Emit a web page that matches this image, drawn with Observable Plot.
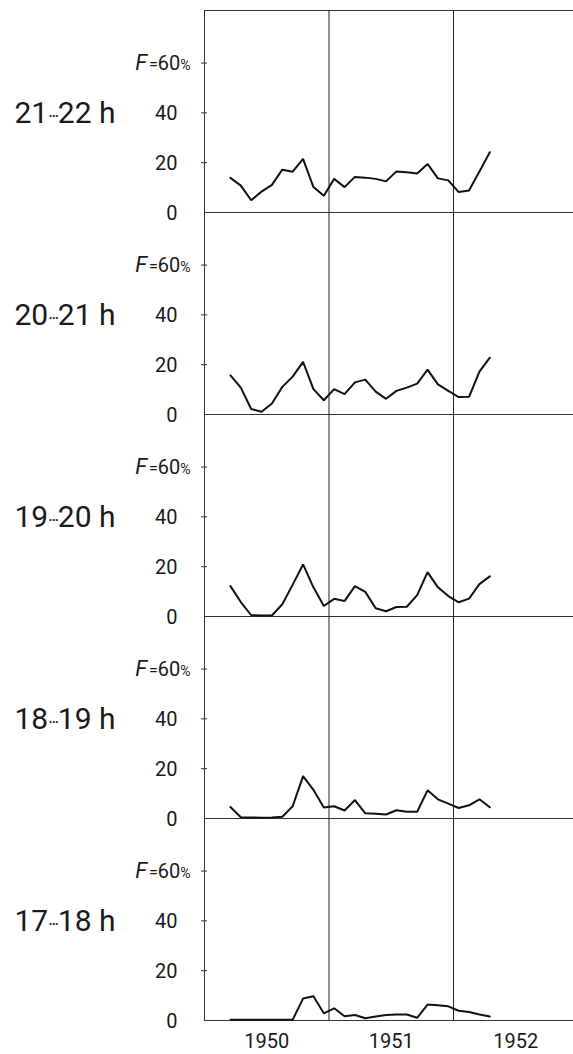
<!DOCTYPE html>
<html>
<head>
<meta charset="utf-8">
<script src="https://cdn.jsdelivr.net/npm/d3@7"></script>
<script src="https://cdn.jsdelivr.net/npm/@observablehq/plot@0.6"></script>
<style>
  html, body { margin: 0; padding: 0; background: #fff; }
  #chart { width: 573px; height: 1054px; overflow: hidden; }
</style>
</head>
<body>
<div id="chart"></div>
<script>
// ---- data ----
const hours = ["21···22 h", "20···21 h", "19···20 h", "18···19 h", "17···18 h"];
const months = [
  "1950-03","1950-04","1950-05","1950-06","1950-07","1950-08","1950-09","1950-10","1950-11","1950-12",
  "1951-01","1951-02","1951-03","1951-04","1951-05","1951-06","1951-07","1951-08","1951-09","1951-10","1951-11","1951-12",
  "1952-01","1952-02","1952-03","1952-04"
];
const h21_22 = [13.9,10.8,4.9,8.4,11.1,17.2,16.4,21.5,10.2,6.7,13.5,10.2,14.3,14.0,13.5,12.5,16.5,16.2,15.7,19.5,13.7,12.9,8.2,8.8,16.5,24.2];
const h20_21 = [15.7,10.8,2.2,1.1,4.4,11.1,15.2,21.1,10.2,5.7,10.2,8.2,12.9,14.0,9.2,6.3,9.5,10.8,12.4,18.0,12.1,9.5,7.0,7.1,17.2,22.8];
const h19_20 = [12.2,5.8,0.5,0.4,0.4,4.9,12.8,20.9,11.7,4.2,7.1,6.2,12.2,9.9,3.3,2.1,3.8,3.9,8.6,17.8,11.7,8.2,5.7,7.2,13.0,16.1];
const h18_19 = [4.6,0.5,0.4,0.3,0.4,0.7,4.9,17.0,11.5,4.4,4.9,3.2,7.4,2.1,1.9,1.6,3.3,2.7,2.7,11.3,7.7,6.0,4.2,5.3,7.7,4.5];
const h17_18 = [0.3,0.3,0.3,0.3,0.3,0.3,0.3,8.8,9.7,2.9,4.9,1.7,2.2,0.9,1.6,2.2,2.4,2.4,1.1,6.4,6.1,5.7,3.9,3.4,2.4,1.6];
const yTicks = [0, 20, 40];
const topTick = 60;
const yearBreaks = [1951, 1952];
const yearLabels = ["1950", "1951", "1952"];

// ---- table built from the arrays ----
const seriesByHour = [h21_22, h20_21, h19_20, h18_19, h17_18];
const rows = [];
hours.forEach((h, i) => {
  months.forEach((m, j) => {
    const [yy, mm] = m.split("-").map(Number);
    rows.push({hour: h, t: yy + (mm - 0.5) / 12, value: seriesByHour[i][j]});
  });
});
const yearTickPos = yearLabels.map(y => +y + 0.5);

const plot = Plot.plot({
  width: 573,
  height: 1054,
  marginLeft: 204,
  marginRight: 0,
  marginTop: 8,
  marginBottom: 32,
  style: {fontFamily: "Roboto, 'Liberation Sans', sans-serif", color: "#1a1a1a", background: "#fff"},
  x: {domain: [1950, 1952.964], axis: null},
  y: {domain: [0, 81.1], axis: null},
  fy: {domain: hours, padding: 0, axis: null},
  marks: [
    Plot.frame({anchor: "top", stroke: "#333", strokeWidth: 1}),
    Plot.frame({anchor: "left", stroke: "#333", strokeWidth: 1}),
    Plot.ruleY([0], {stroke: "#333", strokeWidth: 1}),
    Plot.ruleX(yearBreaks, {stroke: "#222", strokeWidth: 1}),
    Plot.axisY({ticks: [20, 40, 60], tickSize: 6, dx: 3, tickFormat: () => "", label: null, stroke: "#333"}),
    Plot.axisY({ticks: yTicks, tickSize: 0, tickPadding: 27, fontSize: 20, label: null, dy: 1}),
    Plot.axisY({ticks: [topTick], tickSize: 0, tickPadding: 14, fontSize: 20, label: null, dy: 1,
                tickFormat: d => `F=${d}%`}),
    Plot.axisFy({anchor: "left", tickSize: 0, tickPadding: 89, fontSize: 30, label: null, dy: 2}),
    Plot.axisX({ticks: yearTickPos, tickSize: 0, tickPadding: 13, fontSize: 20, label: null,
                tickFormat: (d, i) => yearLabels[i]}),
    Plot.line(rows, {x: "t", y: "value", fy: "hour", stroke: "#111", strokeWidth: 2, strokeLinejoin: "miter"})
  ]
});

// typographic refinements of the label texts
d3.select(plot).selectAll("text").each(function() {
  const t = this.textContent;
  if (t && t.startsWith("F=")) {
    const num = t.slice(2, -1);
    const sel = d3.select(this);
    sel.text(null);
    sel.append("tspan").attr("font-style", "italic").attr("font-size", "22").attr("letter-spacing", "2").text("F");
    sel.append("tspan").attr("font-size", "16").text("=");
    sel.append("tspan").attr("font-size", "20").text(num);
    sel.append("tspan").attr("font-size", "14").text("%");
  } else if (t && t.includes("···")) {
    const [a, b] = t.split("···");
    const sel = d3.select(this);
    sel.text(null);
    sel.append("tspan").text(a);
    sel.append("tspan").attr("font-size", "18").attr("letter-spacing", "-1.5").text("···");
    sel.append("tspan").text(b);
  }
});

document.getElementById("chart").appendChild(plot);
</script>
</body>
</html>
